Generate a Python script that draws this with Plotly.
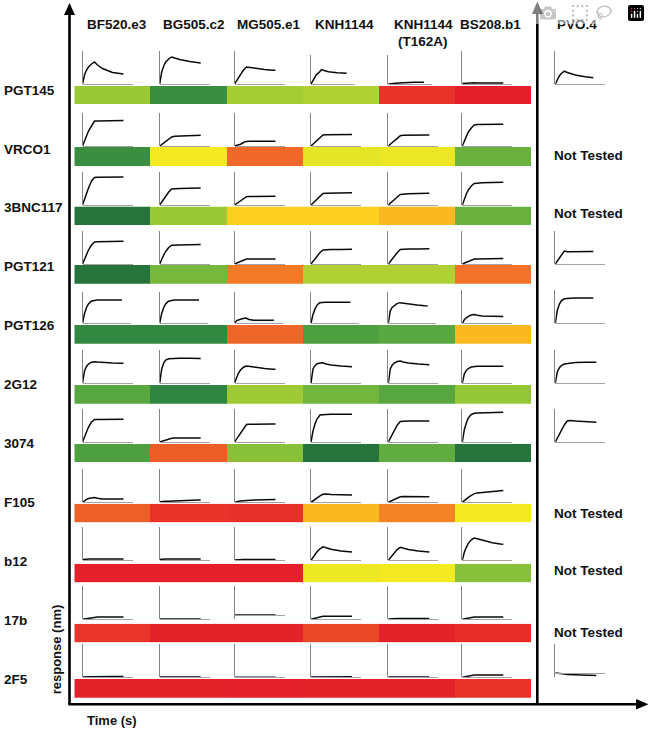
import plotly.graph_objects as go

# ---------- data ----------
envelopes = ["BF520.e3", "BG505.c2", "MG505.e1", "KNH1144", "KNH1144 (T162A)", "BS208.b1"]
antibodies = ["PGT145", "VRCO1", "3BNC117", "PGT121", "PGT126", "2G12", "3074", "F105", "b12", "17b", "2F5"]
time_s = [0, 1, 2, 4, 6, 9, 12, 15, 20, 30, 38, 41]

response_PGT145 = [
    [0, 5, 9, 14, 17, 20, 22, 19, 15.5, 11.5, 10.2, 10],
    [0, 7, 12, 18, 22, 25, 27, 26, 24.5, 22.5, 21.2, 21],
    [0, 1.5, 3.5, 7, 10, 14, 17, 16.5, 15.5, 14.5, 13.8, 13.7],
    [0, 2, 4, 8, 10.5, 13, 16.5, 15.5, 14, 13, 12.5, 12.3],
    [0, 0.2, 0.3, 0.5, 0.7, 0.9, 1.2, 1.4, 1.6, 1.9, 2.1, 2.1],
    [0.5, 0.6, 0.7, 0.9, 1, 1.1, 1.2, 1.1, 1, 1, 1, 1],
]
response_VRCO1 = [
    [0, 2.5, 5, 10.7, 15, 20, 25, 25, 25.2, 25.3, 25.4, 25.4],
    [0, 0.8, 1.6, 3, 4.5, 6.8, 9, 9.7, 10, 10.2, 10.6, 10.7],
    [0, 0.3, 0.6, 1.2, 1.8, 3.5, 4.6, 4.7, 4.7, 4.8, 4.8, 4.8],
    [0, 1, 2, 3.8, 5.6, 8.4, 11, 11.2, 11.3, 11.4, 11.5, 11.5],
    [0, 1, 1.9, 3.6, 5.2, 7.6, 10.2, 10.8, 11, 11, 11, 11],
    [0, 2.5, 5, 10, 14, 18, 21, 21.5, 21.7, 21.7, 21.7, 21.7],
]
response_3BNC117 = [
    [0, 3, 6, 12, 17, 24, 27.5, 27.7, 27.8, 28, 28, 28],
    [0, 1.5, 3, 6, 9, 13, 16, 16.4, 16.5, 16.7, 17, 17],
    [0, 0.7, 1.4, 3, 4.5, 6.5, 8.3, 8.5, 8.6, 8.7, 8.7, 8.7],
    [0, 1, 2, 4, 6, 9, 11.5, 11.8, 12, 12, 12.2, 12.2],
    [0, 1, 2, 3.8, 5.5, 8, 10.5, 11, 11.3, 11.5, 11.7, 11.7],
    [0, 3, 6, 11, 15, 19, 21.5, 22, 22.3, 22.5, 22.7, 22.7],
]
response_PGT121 = [
    [0, 2.5, 5, 10, 14, 19, 22, 22.3, 22.5, 22.6, 22.7, 22.7],
    [0, 2.5, 5, 9, 12.5, 16.5, 18.8, 19, 19.1, 19.2, 19.4, 19.5],
    [0, 0.4, 0.8, 1.6, 2.4, 4, 4.9, 5, 5, 5, 5, 5],
    [0, 1.3, 2.6, 5, 8, 11.5, 14, 14.3, 14.5, 14.6, 14.8, 14.8],
    [0, 1.4, 2.8, 5.5, 8, 11.5, 14.5, 14.8, 15, 15, 15.3, 15.3],
    [0, 0.4, 0.8, 1.6, 2.5, 4, 4.9, 5, 5.1, 5.2, 5.4, 5.4],
]
response_PGT126 = [
    [0, 6, 10, 16, 20, 23, 24, 24.2, 24.3, 24.3, 24.3, 24.3],
    [0, 6, 10, 16, 20, 23, 24, 24.2, 24.3, 24.3, 24.3, 24.3],
    [0, 1.5, 2.5, 3.5, 4.3, 5, 5.4, 4, 3.3, 3.2, 3.2, 3.2],
    [0, 5, 9, 14.5, 18.5, 21.5, 22, 22, 22, 22, 22, 22],
    [0, 9, 13, 16.5, 18.5, 20.5, 21.5, 21, 20, 19, 18.2, 18],
    [0, 2, 3.5, 5.5, 7, 8.2, 8.7, 8, 7.3, 7, 6.7, 6.7],
]
response_2G12 = [
    [0, 8, 12, 16.5, 19, 20.8, 21.3, 21, 20.5, 20, 19.7, 19.7],
    [0, 9, 14, 20, 23, 24.3, 24.5, 24.6, 24.7, 24.7, 24.5, 24.5],
    [0, 3, 6, 10, 13, 15.8, 17, 16.5, 15.5, 14.5, 13.8, 13.7],
    [0, 10, 14, 17.5, 19, 20, 20.3, 19, 18, 17, 16.5, 16.3],
    [0, 10, 14, 18, 20, 21.5, 22, 21, 20, 19, 18.4, 18.3],
    [0, 6, 9, 12.5, 14.5, 16, 16.5, 16.7, 16.7, 16.7, 16.7, 16.7],
]
response_3074 = [
    [0, 2.5, 5, 10, 15, 20, 22.5, 22.5, 22.6, 22.7, 22.7, 22.7],
    [0, 0.3, 0.6, 1.2, 1.8, 3, 3.8, 4, 4, 4, 4, 4],
    [0, 1.5, 3, 6.5, 9.5, 14, 17.5, 17.8, 18, 18, 18, 18],
    [0, 6, 11, 18, 23, 27, 27.5, 27.6, 27.7, 27.7, 27.7, 27.7],
    [0, 2, 4, 8, 12, 17, 20.5, 20.8, 21, 21, 21, 21],
    [0, 7, 12, 19, 24, 27.5, 28.7, 29, 29.2, 29.5, 29.7, 29.7],
]
response_F105 = [
    [0, 1, 1.8, 3, 3.8, 4.5, 4.7, 4, 3.3, 3.3, 3.3, 3.3],
    [0.5, 0.7, 0.8, 0.9, 1, 1.1, 1.3, 1.4, 1.6, 2, 2.3, 2.3],
    [0, 0.3, 0.6, 1, 1.3, 1.6, 1.9, 2, 2.2, 2.5, 2.7, 2.7],
    [0, 0.8, 1.6, 3, 4.5, 6.5, 8, 8.2, 7.7, 7.3, 7.3, 7.3],
    [0, 0.5, 1, 2, 3, 4.5, 5.5, 5.7, 5.7, 5.7, 5.5, 5.5],
    [0, 1, 1.9, 3.5, 5, 7, 8.7, 9.2, 9.8, 10.5, 11.5, 11.7],
]
response_b12 = [
    [0.8, 1, 1, 1.1, 1.2, 1.2, 1.3, 1.3, 1.2, 1.2, 1.2, 1.2],
    [0.8, 1, 1.1, 1.2, 1.3, 1.4, 1.4, 1.3, 1.3, 1.3, 1.3, 1.3],
    [0.3, 0.4, 0.5, 0.6, 0.6, 0.7, 0.7, 0.7, 0.8, 0.8, 0.7, 0.7],
    [0, 1.5, 3, 6, 8.5, 11.5, 13.5, 12.5, 11, 9.3, 8.4, 8.3],
    [0, 1.3, 2.6, 5.5, 8, 11, 13, 12, 10.8, 9.3, 8.5, 8.3],
    [0, 5, 8, 13, 17, 20.5, 22.3, 21.5, 20, 17.5, 16.2, 16],
]
response_17b = [
    [0, 0.2, 0.4, 0.7, 1, 1.6, 2.1, 2.3, 2.3, 2.4, 2.4, 2.4],
    [0.4, 0.4, 0.4, 0.4, 0.4, 0.4, 0.3, 0.4, 0.4, 0.4, 0.4, 0.4],
    [0, 0, 0, 0.1, 0.1, 0.1, 0.1, 0.1, 0.1, 0, 0, 0],
    [0, 0.3, 0.6, 1.2, 1.8, 2.5, 3, 3, 3, 3, 3, 3],
    [0.3, 0.4, 0.5, 0.6, 0.6, 0.7, 0.7, 0.7, 0.7, 0.7, 0.7, 0.7],
    [0, 0.2, 0.4, 0.8, 1.2, 1.9, 2.3, 2.3, 2.4, 2.4, 2.4, 2.4],
]
response_2F5 = [
    [0.3, 0.4, 0.5, 0.5, 0.5, 0.6, 0.6, 0.7, 0.7, 0.7, 0.7, 0.7],
    [0.4, 0.4, 0.4, 0.4, 0.4, 0.4, 0.5, 0.5, 0.4, 0.4, 0.4, 0.4],
    [0.1, 0.1, 0.1, 0.1, 0.1, 0.1, 0.1, 0.1, 0, 0, 0, 0],
    [0.4, 0.4, 0.5, 0.5, 0.5, 0.5, 0.5, 0.5, 0.5, 0.5, 0.5, 0.5],
    [0.3, 0.3, 0.4, 0.4, 0.4, 0.4, 0.4, 0.4, 0.4, 0.4, 0.4, 0.4],
    [0, 0.2, 0.4, 0.9, 1.4, 1.9, 2.2, 2.3, 2.3, 2.3, 2.4, 2.4],
]
responses = [response_PGT145, response_VRCO1, response_3BNC117, response_PGT121, response_PGT126,
             response_2G12, response_3074, response_F105, response_b12, response_17b, response_2F5]

# PVO.4 curves (None = row not tested)
pvo_PGT145 = [0, 2.5, 4.5, 8, 10.5, 12.8, 11.5, 10.5, 9, 7.3, 6.3, None]
pvo_PGT121 = [0, 1.5, 3, 6, 9, 13, 12.2, 12.2, 12.3, 12.4, 12.6, None]
pvo_PGT126 = [0, 8, 13, 19, 22.5, 24.5, 25, 25, 25.2, 25.3, 25.3, None]
pvo_2G12 = [0, 7, 11, 15, 17.5, 19, 19.5, 20, 20.4, 20.7, 20.7, 20.7]
pvo_3074 = [0, 2, 4, 8, 12, 17, 21, 21.5, 21, 20.2, 19.7, 19.7]
pvo_2F5 = [-0.3, -0.5, -0.8, -1, -1.2, -1.5, -1.8, -2, -2.3, -2.7, -3, -3]
pvo_curves = [pvo_PGT145, None, None, pvo_PGT121, pvo_PGT126, pvo_2G12, pvo_3074, None, None, None, pvo_2F5]
pvo_result = ["+", None, None, "+", "+", "+", "+", None, None, None, "x"]

# binding score per cell, drawn through the colour scale
score_PGT145 = [65, 87, 63, 60, 9, 0]
score_VRCO1 = [87, 50, 25, 55, 53, 74]
score_3BNC117 = [95, 65, 45, 45, 41, 74]
score_PGT121 = [95, 71, 29, 60, 60, 27]
score_PGT126 = [89, 89, 24, 81, 78, 41]
score_2G12 = [78, 90, 64, 72, 78, 66]
score_3074 = [81, 21, 68, 95, 76, 95]
score_F105 = [22, 9, 8, 41, 31, 50]
score_b12 = [1, 1, 1, 52, 50, 68]
score_17b = [10, 2, 2, 15, 2, 7]
score_2F5 = [2, 2, 1, 2, 2, 9]
scores = [score_PGT145, score_VRCO1, score_3BNC117, score_PGT121, score_PGT126, score_2G12,
          score_3074, score_F105, score_b12, score_17b, score_2F5]

# ---------- layout constants (pixels of the 650x729 page) ----------
W, H = 650, 729
FONT = "Liberation Sans"
colorscale_stops = [(0, "#e31e2a"), (10, "#e8342a"), (20, "#eb5a28"), (25, "#f0692a"), (30, "#f47f28"),
                    (40, "#fbb321"), (45, "#fdd01f"), (50, "#f3ea21"), (55, "#e5e528"), (60, "#b0d033"),
                    (65, "#9bc936"), (70, "#7cbb3b"), (75, "#65ae40"), (80, "#50a240"), (85, "#3f9442"),
                    (90, "#2f8541"), (95, "#26733c"), (100, "#26733c")]
colorscale = [[v / 100, c] for v, c in colorscale_stops]

col_x = [82.5, 159.7, 234.5, 311, 388.3, 462.3]
pvo_x = 555.3
row_base = [84, 146, 205, 264, 323.3, 383, 442, 502.3, 560.3, 619.3, 677.3]
strip_top = [86, 147, 206.5, 265, 325, 385, 444, 503.7, 563.7, 623.7, 679]
strip_bot = [104, 166, 225, 283.7, 343.7, 403.7, 462.3, 522.3, 582.3, 642.3, 697.7]
strip_x = (74.3, 531)
label_y = [90, 149, 207.7, 266.7, 325.7, 384.7, 443.3, 502.3, 561.3, 620.3, 679.3]
not_tested_y = {1: 155.7, 2: 213.3, 7: 513.3, 8: 570, 9: 632.3}
icon_y = {0: 94.7, 3: 274.7, 4: 332.3, 5: 392.7, 6: 450, 10: 688.3}
icon_x = 576
AX_W, AX_H = 50, 33
scale_of = {(0, 3): 0.87, (0, 4): 0.87, (4, 0): 0.96, (4, 1): 0.96, (4, 2): 0.96, (4, 3): 0.96, (4, 4): 0.96}
baseline_lift = {(9, 2): 4.4, (10, 6): 4.7}

def px(x):
    return x / W

def py(y):
    return 1 - y / H

fig = go.Figure()
layout_axes = {}
n = 0

def hidden():
    return dict(showticklabels=False, ticks="", showgrid=False, zeroline=False, fixedrange=True)

def add_cell(r, c, x0, values):
    global n
    n += 1
    s = scale_of.get((r, c), 1)
    lift = baseline_lift.get((r, c), 0)
    w, h = AX_W * s, AX_H * s
    bottom = row_base[r]
    xn, yn = f"x{n}", f"y{n}"
    fig.add_trace(go.Scatter(x=time_s, y=values, xaxis=xn, yaxis=yn, mode="lines", cliponaxis=False,
                             line=dict(color="#0a0a0a", width=1.5), hoverinfo="skip", showlegend=False))
    layout_axes[f"xaxis{n}"] = dict(domain=[px(x0), px(x0 + w)], range=[0, AX_W], anchor="free",
                                    position=py(bottom - lift), showline=True, linecolor="#a3a3a3",
                                    linewidth=1, **hidden())
    layout_axes[f"yaxis{n}"] = dict(domain=[py(bottom), py(bottom - h)], range=[-lift, AX_H - lift],
                                    anchor=xn, showline=True, linecolor="#858585", linewidth=1, **hidden())
    return xn, yn, s, lift

# reaction curves
for r, rows in enumerate(responses):
    for c, vals in enumerate(rows):
        add_cell(r, c, col_x[c], vals)

# PVO.4 curves and result icons
for r, vals in enumerate(pvo_curves):
    if vals is None:
        continue
    xn, yn, s, lift = add_cell(r, 6, pvo_x, vals)
    sym = "circle-cross-open" if pvo_result[r] == "+" else "circle-x-open"
    col = "#4f8f33" if pvo_result[r] == "+" else "#dd2c36"
    fig.add_trace(go.Scatter(x=[icon_x - pvo_x], y=[row_base[r] - lift - icon_y[r]], xaxis=xn, yaxis=yn,
                             mode="markers", cliponaxis=False, hoverinfo="skip", showlegend=False,
                             marker=dict(symbol=sym, size=13, color=col, line=dict(color=col, width=1))))

# colour strips
for r, row_scores in enumerate(scores):
    n += 1
    xn, yn = f"x{n}", f"y{n}"
    fig.add_trace(go.Heatmap(z=[row_scores], x=envelopes, y=[antibodies[r]], xaxis=xn, yaxis=yn,
                             zmin=0, zmax=100, colorscale=colorscale, showscale=False, hoverinfo="skip"))
    layout_axes[f"xaxis{n}"] = dict(domain=[px(strip_x[0]), px(strip_x[1])], anchor=yn, type="category",
                                    visible=False, fixedrange=True)
    layout_axes[f"yaxis{n}"] = dict(domain=[py(strip_bot[r]), py(strip_top[r])], anchor=xn, type="category",
                                    visible=False, fixedrange=True)

# text
annotations = []

def text(s, x, y, anchor="center", size=13.5, angle=0):
    annotations.append(dict(text=f"<b>{s}</b>", x=px(x), y=py(y), xref="paper", yref="paper", xanchor=anchor,
                            yanchor="middle", showarrow=False, textangle=angle,
                            font=dict(family=FONT, size=size, color="#111111")))

header_x = [116.5, 193.7, 268.5, 344, 423, 490.8]
header_labels = ["BF520.e3", "BG505.c2", "MG505.e1", "KNH1144", "KNH1144", "BS208.b1"]
for lab, hx in zip(header_labels, header_x):
    text(lab, hx, 24.3)
text("(T162A)", 423, 41)
text("PVO.4", 577.2, 24.3)
for ab, ly in zip(antibodies, label_y):
    text(ab, 1.5, ly, anchor="left")
for ny in not_tested_y.values():
    text("Not Tested", 551.5, ny, anchor="left")
text("response (nm)", 56, 649.3, size=13, angle=-90)
text("Time (s)", 112, 720, size=13)

# frame arrows
shapes = []
def seg(x0, y0, x1, y1):
    shapes.append(dict(type="line", xref="paper", yref="paper", x0=px(x0), y0=py(y0), x1=px(x1), y1=py(y1),
                       line=dict(color="#000000", width=2.6)))

def tri(points):
    path = "M " + " L ".join(f"{px(a):.5f},{py(b):.5f}" for a, b in points) + " Z"
    shapes.append(dict(type="path", xref="paper", yref="paper", path=path, fillcolor="#000000",
                       line=dict(color="#000000", width=0)))

seg(69.5, 704.3, 69.5, 14)
tri([(69.5, 3), (64, 15), (75, 15)])
seg(537.3, 704.3, 537.3, 13)
tri([(537.3, 1.5), (532, 14), (543, 14)])
seg(68.3, 704.3, 637, 704.3)
tri([(648.5, 704.3), (636, 699), (636, 709.5)])

fig.update_layout(width=W, height=H, margin=dict(l=0, r=0, t=0, b=0), paper_bgcolor="white",
                  plot_bgcolor="rgba(0,0,0,0)", showlegend=False, annotations=annotations, shapes=shapes,
                  **layout_axes)
fig.write_html("out.html", post_script="document.body.style.margin='0';")
